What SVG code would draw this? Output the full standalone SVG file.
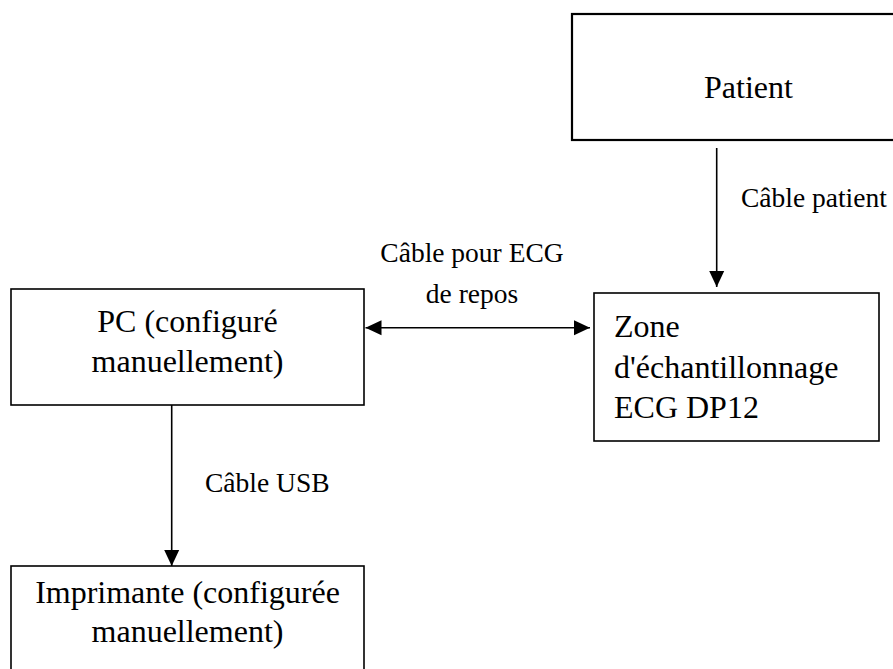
<svg xmlns="http://www.w3.org/2000/svg" width="893" height="669" viewBox="0 0 893 669">
<style>
.box{fill:#fff;stroke:#000;stroke-width:1.6}
.c{text-anchor:middle}
.e{stroke:#000;stroke-width:1.6;fill:none}
</style>
<defs>
<marker id="ah" viewBox="0 0 16 16" refX="16" refY="8" markerWidth="16" markerHeight="16" markerUnits="userSpaceOnUse" orient="auto-start-reverse">
<path d="M0,0.5 L16,8 L0,15.5 Z" fill="#000"/>
</marker>
</defs>
<rect width="893" height="669" fill="#fff"/>
<g font-family="Liberation Serif, Tinos, Times New Roman, DejaVu Serif, serif" fill="#000">
<g id="patient" font-size="32">
<rect class="box" x="572" y="14" width="353" height="126" style="stroke-width:2.2"/>
<text class="c" x="748.5" y="98">Patient</text>
</g>
<g id="dp12" font-size="32">
<rect class="box" x="594" y="293" width="285" height="148"/>
<text x="614" y="337">Zone</text>
<text x="614" y="378">d'échantillonnage</text>
<text x="614" y="418">ECG DP12</text>
</g>
<g id="pc" font-size="32">
<rect class="box" x="11" y="289" width="353" height="116"/>
<text class="c" x="187.5" y="332">PC (configuré</text>
<text class="c" x="187.5" y="372">manuellement)</text>
</g>
<g id="imprimante" font-size="32">
<rect class="box" x="11" y="566" width="353" height="120"/>
<text class="c" x="187.5" y="603">Imprimante (configurée</text>
<text class="c" x="187.5" y="642">manuellement)</text>
</g>
<g id="connectors" font-size="27.5">
<line class="e" x1="716.7" y1="148" x2="716.7" y2="287" marker-end="url(#ah)"/>
<text x="741" y="207">Câble patient</text>
<line class="e" x1="365.5" y1="327.7" x2="590" y2="327.7" marker-start="url(#ah)" marker-end="url(#ah)"/>
<text class="c" x="472" y="262">Câble pour ECG</text>
<text class="c" x="472" y="303">de repos</text>
<line class="e" x1="171.7" y1="405" x2="171.7" y2="566" marker-end="url(#ah)"/>
<text x="205" y="492">Câble USB</text>
</g>
</g>
</svg>
